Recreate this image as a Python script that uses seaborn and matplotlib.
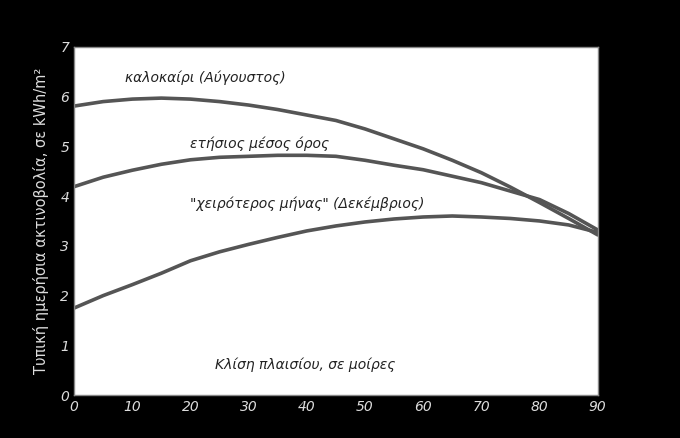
# Daily radiation vs panel tilt, three seasonal curves
import matplotlib
matplotlib.use("Agg")
import matplotlib.pyplot as plt
import seaborn as sns
import pandas as pd

tilt = [0, 5, 10, 15, 20, 25, 30, 35, 40, 45, 50, 55, 60, 65, 70, 75, 80, 85, 90]
summer = [5.81, 5.9, 5.95, 5.97, 5.95, 5.9, 5.83, 5.74, 5.63, 5.52, 5.35, 5.15,
          4.95, 4.72, 4.47, 4.18, 3.87, 3.55, 3.22]
annual = [4.19, 4.38, 4.52, 4.64, 4.73, 4.78, 4.8, 4.82, 4.82, 4.8, 4.72, 4.62,
          4.53, 4.4, 4.27, 4.1, 3.93, 3.65, 3.32]
worst = [1.75, 2.0, 2.22, 2.45, 2.7, 2.88, 3.03, 3.17, 3.3, 3.4, 3.48, 3.54,
         3.58, 3.6, 3.58, 3.55, 3.5, 3.42, 3.27]

labels = ["καλοκαίρι (Αύγουστος)", "ετήσιος μέσος όρος", "\"χειρότερος μήνας\" (Δεκέμβριος)"]
label_pos = [(8.8, 6.38), (20, 5.06), (20, 3.84)]
x_ticks = [0, 10, 20, 30, 40, 50, 60, 70, 80, 90]
y_ticks = [0, 1, 2, 3, 4, 5, 6, 7]

n = len(tilt)
df = pd.DataFrame({
    "tilt": tilt * 3,
    "value": summer + annual + worst,
    "series": [labels[0]] * n + [labels[1]] * n + [labels[2]] * n,
})

sns.set_style("white")
plt.rcParams["font.family"] = ["DejaVu Sans"]

fig = plt.figure(figsize=(6.8, 4.38), dpi=100, facecolor="black")
ax = fig.add_axes([0.109, 0.098, 0.770, 0.795])
ax.set_facecolor("white")

sns.lineplot(data=df, x="tilt", y="value", hue="series", estimator=None,
             palette=["#555555"] * 3, linewidth=2.6, legend=False, ax=ax)

for lab, (x, y) in zip(labels, label_pos):
    ax.text(x, y, lab, fontsize=10, style="italic", color="#222222", va="center")
ax.text(39.7, 0.6, "Κλίση πλαισίου, σε μοίρες", fontsize=10, style="italic",
        color="#222222", ha="center", va="center")

ax.set_xlim(0, 90)
ax.set_ylim(0, 7)
ax.set_xticks(x_ticks)
ax.set_yticks(y_ticks)
ax.tick_params(direction="in", length=8, width=1, colors="#888888",
               labelcolor="#dddddd", labelsize=10)
for t in ax.get_xticklabels() + ax.get_yticklabels():
    t.set_fontstyle("italic")
for s in ax.spines.values():
    s.set_color("#888888")
    s.set_linewidth(1.0)
ax.set_xlabel("")
ax.set_ylabel("Τυπική ημερήσια ακτινοβολία, σε kWh/m²", color="#dddddd",
              fontsize=10.5, labelpad=8)

fig.savefig("out.png", dpi=100, facecolor="black")
